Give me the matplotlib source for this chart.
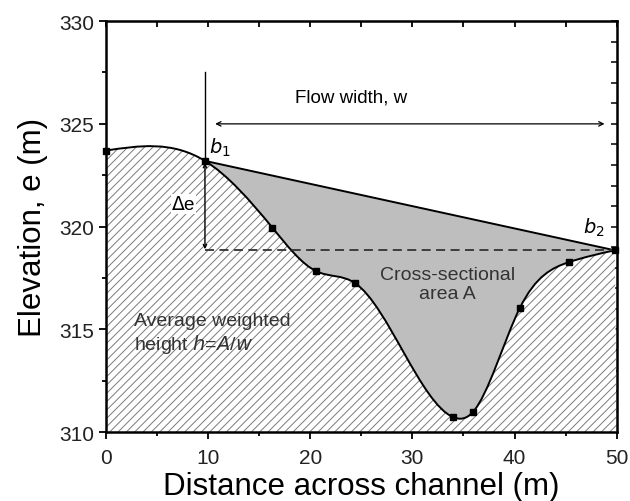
import numpy as np
import matplotlib
matplotlib.use("Agg")
import matplotlib.pyplot as plt
from matplotlib.path import Path
from matplotlib.patches import PathPatch
from matplotlib.ticker import MultipleLocator

plt.rcParams['font.family'] = ['Liberation Sans', 'DejaVu Sans']
plt.rcParams['hatch.linewidth'] = 0.7

# surveyed cross-section points (distance m, elevation m)
dist = [0, 9.7, 16.3, 20.6, 24.4, 34.0, 35.9, 40.5, 45.3, 49.8]
elev = [323.7, 323.2, 319.95, 317.83, 317.25, 310.73, 310.97, 316.03, 318.27, 318.85]
bank_left = 1      # index of b1
bank_right = 9     # index of b2
x_ticks = [0, 10, 20, 30, 40, 50]
y_ticks = [310, 315, 320, 325, 330]


def natural_spline_path(xs, ys):
    """Bezier vertices of a natural cubic spline through the points."""
    xs = np.asarray(xs, float)
    ys = np.asarray(ys, float)
    n = len(xs)
    h = np.diff(xs)
    A = np.zeros((n, n))
    r = np.zeros(n)
    A[0, 0] = A[-1, -1] = 1
    for i in range(1, n - 1):
        A[i, i - 1] = h[i - 1]
        A[i, i] = 2 * (h[i - 1] + h[i])
        A[i, i + 1] = h[i]
        r[i] = 6 * ((ys[i + 1] - ys[i]) / h[i] - (ys[i] - ys[i - 1]) / h[i - 1])
    M = np.linalg.solve(A, r)
    m = np.zeros(n)
    for i in range(n - 1):
        m[i] = (ys[i + 1] - ys[i]) / h[i] - h[i] * (2 * M[i] + M[i + 1]) / 6
    m[-1] = (ys[-1] - ys[-2]) / h[-1] + h[-1] * (M[-2] + 2 * M[-1]) / 6
    verts = [(xs[0], ys[0])]
    for i in range(n - 1):
        verts.append((xs[i] + h[i] / 3, ys[i] + m[i] * h[i] / 3))
        verts.append((xs[i + 1] - h[i] / 3, ys[i + 1] - m[i + 1] * h[i] / 3))
        verts.append((xs[i + 1], ys[i + 1]))
    return verts


fig, ax = plt.subplots(figsize=(6.3, 5.02), dpi=100)
fig.subplots_adjust(left=0.168, right=0.979, top=0.956, bottom=0.137)

curve = natural_spline_path(dist, elev)
ncurve = len(curve)
codes_curve = [Path.MOVETO] + [Path.CURVE4] * (ncurve - 1)

# hatched ground below the profile
ground = curve + [(50, 310), (dist[0], 310), (dist[0], elev[0])]
ground_codes = codes_curve + [Path.LINETO, Path.LINETO, Path.CLOSEPOLY]
ax.add_patch(PathPatch(Path(ground, ground_codes), facecolor='white',
                       edgecolor='#7a7a7a', hatch='////', linewidth=0, zorder=1))

# water cross-section between b1-b2 line and the bed
wet = curve[3 * bank_left:] + [(dist[bank_left], elev[bank_left])]
wet_codes = [Path.MOVETO] + [Path.CURVE4] * (len(wet) - 2) + [Path.CLOSEPOLY]
ax.add_patch(PathPatch(Path(wet, wet_codes), facecolor='#bebebe',
                       edgecolor='none', zorder=2))

ax.add_patch(PathPatch(Path(curve, codes_curve), facecolor='none',
                       edgecolor='black', linewidth=1.4, zorder=3))
ax.plot([dist[bank_left], dist[bank_right]], [elev[bank_left], elev[bank_right]],
        color='black', lw=1.4, zorder=3)
ax.plot([dist[bank_left], dist[bank_right]], [elev[bank_right], elev[bank_right]],
        color='#333333', lw=1.3, ls=(0, (5, 3)), zorder=3)
ax.plot(dist, elev, 's', color='black', ms=5, zorder=6, clip_on=False)

# annotations
ax.plot([dist[bank_left]] * 2, [327.5, elev[bank_left] + 0.2], color='black', lw=1)
ax.annotate('', xy=(dist[bank_left], elev[bank_left] - 0.1),
            xytext=(dist[bank_left], elev[bank_right] + 0.05),
            arrowprops=dict(arrowstyle='<->', lw=1, color='black',
                            mutation_scale=6, shrinkA=0, shrinkB=0), zorder=5)
ax.annotate('', xy=(10.7, 325.0), xytext=(48.8, 325.0),
            arrowprops=dict(arrowstyle='<->', lw=0.9, color='black',
                            mutation_scale=8, shrinkA=0, shrinkB=0), zorder=5)
ax.text(24.0, 326.3, 'Flow width, w', fontsize=13.5, ha='center', va='center')
ax.text(7.6, 321.1, r'$\Delta$e', fontsize=13.5, ha='center', va='center', zorder=5,
        bbox=dict(facecolor='white', edgecolor='none', pad=0.5))
ax.text(10.1, 323.9, r'$b_1$', fontsize=14, ha='left', va='center')
ax.text(47.8, 320.0, r'$b_2$', fontsize=14, ha='center', va='center')
ax.text(33.4, 317.2, 'Cross-sectional\narea A', fontsize=14, ha='center',
        va='center', color='#333333', zorder=5, linespacing=1.15)
ax.text(2.8, 314.8, 'Average weighted\nheight $h$=$A$/$w$', fontsize=14,
        ha='left', va='center', color='#333333', zorder=5, linespacing=1.15)

ax.set_xlim(0, 50)
ax.set_ylim(310, 330)
ax.set_xticks(x_ticks)
ax.set_yticks(y_ticks)
ax.xaxis.set_minor_locator(MultipleLocator(5))
ax.yaxis.set_minor_locator(MultipleLocator(2.5))
ax.tick_params(which='both', direction='out', width=1.3, labelsize=15,
               labelcolor='#222222')
ax.tick_params(which='major', length=5)
ax.tick_params(which='minor', length=3)
ax.tick_params(axis='x', pad=6)
for s in ax.spines.values():
    s.set_linewidth(1.8)

# mirrored inward ticks on top and right
top = ax.secondary_xaxis('top')
top.set_xticks(np.arange(0, 51, 5))
top.tick_params(direction='in', length=4, width=1.3, labeltop=False)
right = ax.secondary_yaxis('right')
right.set_yticks(np.arange(310, 331, 1))
right.tick_params(direction='in', length=4, width=1.1, labelright=False)

ax.set_xlabel('Distance across channel (m)', fontsize=22.5, labelpad=3)
ax.set_ylabel('Elevation, e (m)', fontsize=22.5, labelpad=8)

fig.savefig('out.png', dpi=100)
